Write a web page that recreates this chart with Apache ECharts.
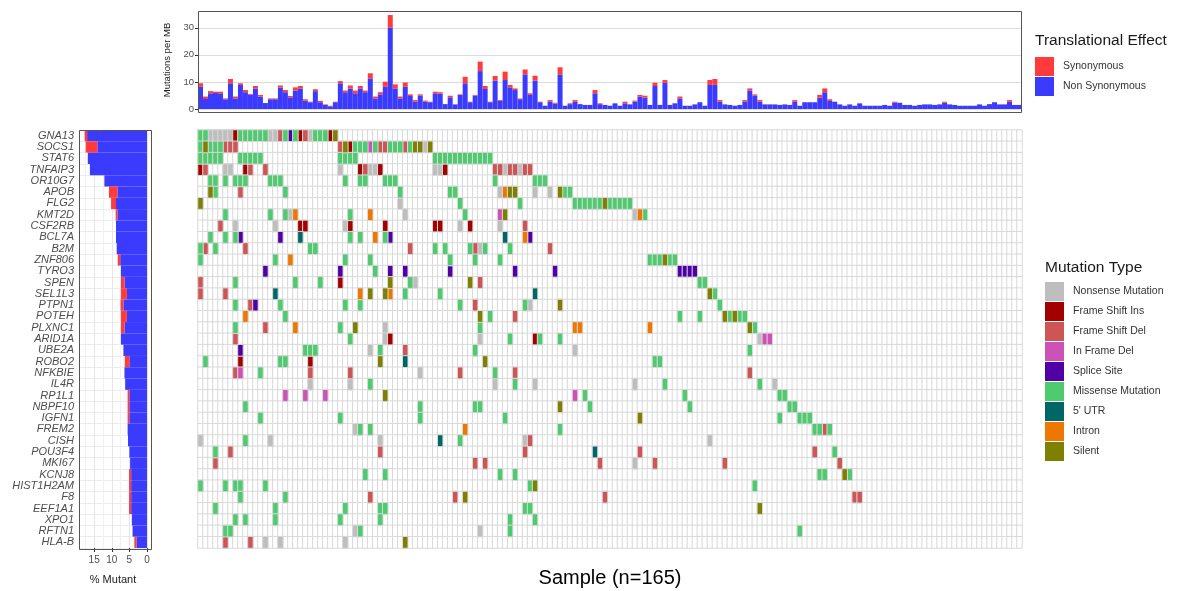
<!DOCTYPE html>
<html>
<head>
<meta charset="utf-8">
<script src="https://cdn.jsdelivr.net/npm/echarts@6/dist/echarts.min.js"></script>
<style>
  html, body { margin: 0; padding: 0; background: #fff; }
  #chart { width: 1184px; height: 591px; }
</style>
</head>
<body>
<div id="chart"></div>
<script>
// genes, top to bottom
const genes = ['GNA13', 'SOCS1', 'STAT6', 'TNFAIP3', 'OR10G7', 'APOB', 'FLG2', 'KMT2D', 'CSF2RB', 'BCL7A',
  'B2M', 'ZNF806', 'TYRO3', 'SPEN', 'SEL1L3', 'PTPN1', 'POTEH', 'PLXNC1', 'ARID1A', 'UBE2A',
  'ROBO2', 'NFKBIE', 'IL4R', 'RP1L1', 'NBPF10', 'IGFN1', 'FREM2', 'CISH', 'POU3F4', 'MKI67',
  'KCNJ8', 'HIST1H2AM', 'F8', 'EEF1A1', 'XPO1', 'RFTN1', 'HLA-B']

// % mutant per gene (left panel)
const pctNonSyn = [17.0, 14.1, 16.8, 16.2, 12.1, 8.4, 8.8, 8.4, 8.8, 8.8,
  8.6, 7.6, 7.4, 6.4, 5.7, 6.7, 5.7, 6.4, 7.4, 6.7,
  5.0, 6.4, 6.2, 5.0, 5.0, 5.0, 5.5, 5.4, 5.0, 4.8,
  4.5, 4.5, 4.5, 4.5, 4.3, 4.1, 3.0]
const pctSyn = [0.7, 3.3, 0, 0, 0, 2.4, 1.4, 0.5, 0, 0,
  0, 0.7, 0, 1.0, 1.7, 0.8, 1.7, 1.0, 0, 0,
  1.3, 0, 0, 0.5, 0.5, 0.5, 0, 0, 0, 0,
  0.6, 0.6, 0.6, 0.6, 0, 0, 0.6]

// mutations per MB per sample (top panel)
const tmbNonSyn = [
  8.2, 3.7, 5.8, 5.9, 5.8, 3.6, 9.5, 3.9, 8.9, 6.2, 5.2, 7.6, 4.6, 2.2, 3.6,
  3.6, 7.9, 6.2, 4.3, 6.8, 7.6, 3.1, 2.5, 6.6, 2.5, 1.5, 1.0, 2.5, 9.5, 6.2,
  7.6, 5.8, 7.6, 6.2, 11.3, 3.9, 5.4, 8.2, 30.0, 7.6, 3.9, 8.2, 4.8, 2.7, 4.9,
  2.7, 2.5, 5.8, 5.7, 1.8, 4.3, 1.7, 5.2, 9.5, 2.5, 4.9, 14.0, 7.4, 2.5, 10.5,
  3.0, 10.7, 8.0, 7.0, 3.6, 12.8, 5.2, 10.5, 2.5, 1.2, 2.7, 2.0, 12.8, 1.2, 1.8,
  2.7, 1.8, 1.5, 1.5, 5.8, 1.8, 1.5, 1.2, 2.1, 1.2, 2.1, 1.7, 2.7, 4.6, 4.2,
  1.5, 8.5, 1.5, 9.7, 1.5, 2.1, 3.9, 1.2, 1.2, 1.7, 2.5, 1.2, 8.9, 9.1, 2.7,
  1.7, 1.5, 1.2, 1.5, 2.7, 6.8, 4.9, 2.7, 1.7, 1.7, 1.7, 1.5, 1.7, 1.5, 2.7,
  1.2, 2.5, 2.5, 2.5, 4.2, 6.2, 3.0, 2.7, 1.7, 1.2, 1.7, 1.2, 2.1, 1.2, 1.2,
  1.2, 1.2, 1.5, 1.2, 2.3, 2.3, 1.5, 1.5, 1.2, 1.5, 1.7, 1.7, 1.5, 1.7, 2.3,
  1.7, 1.5, 1.2, 1.2, 1.2, 1.2, 1.7, 1.2, 1.8, 2.5, 1.7, 1.7, 2.7, 1.5, 1.5]
const tmbSyn = [
  1.3, 0.9, 0.8, 0.5, 0.6, 0.3, 1.6, 0.7, 0.6, 0.8, 0.3, 0.9, 0.6, 0, 0.3,
  0.3, 0.8, 0.8, 0.5, 1.2, 0.9, 0.5, 0.2, 0.7, 0.5, 0.2, 0.2, 0.2, 0.8, 0.6,
  1.1, 1.0, 0.9, 0.6, 1.9, 0.7, 0.8, 1.9, 4.7, 1.5, 0.7, 1.6, 0.6, 0.6, 0.5,
  0.4, 0.2, 0.6, 0.5, 0, 0.6, 0, 0.2, 2.4, 0.2, 0.3, 3.5, 1.1, 0.2, 1.7,
  0.3, 3.1, 0.9, 0.6, 0.3, 1.8, 0.6, 1.8, 0.2, 0, 0.6, 0.3, 2.6, 0, 0.3,
  0.6, 0, 0, 0, 1.2, 0.3, 0, 0, 0, 0, 0.6, 0, 0.4, 0.6, 0.7,
  0, 1.2, 0, 1.0, 0, 0, 0.7, 0, 0, 0, 0, 0, 1.8, 2.0, 0.6,
  0, 0, 0, 0, 0.6, 0.8, 0.5, 0.6, 0, 0, 0, 0, 0, 0, 0.6,
  0, 0, 0, 0, 1.0, 1.4, 0.6, 0, 0, 0, 0, 0, 0, 0, 0,
  0, 0, 0, 0, 0.4, 0, 0, 0, 0, 0, 0, 0, 0, 0, 0.4,
  0, 0, 0, 0, 0, 0, 0, 0, 0, 0, 0, 0, 0.6, 0, 0]

// mutation types: code letter, legend name, colour
const typeCodes = ['N', 'I', 'D', 'F', 'S', 'M', 'U', 'T', 'L']
const typeNames = ['Nonsense Mutation', 'Frame Shift Ins', 'Frame Shift Del', 'In Frame Del', 'Splice Site',
  'Missense Mutation', "5' UTR", 'Intron', 'Silent']
const typeColors = ['#bebebe', '#a30000', '#cd5555', '#cc52b8', '#5100a6', '#4dcb6e', '#006666', '#ee7700', '#808000']

// mutated samples per gene: "<sample index><type code>"
const geneCells = [
  '0M 1M 2N 3N 4N 5N 6N 7I 8M 9M 10M 11M 12M 13M 14N 15N 16D 17M 18S 19M 20I 21D 22N 23M 24M 25M 26I 27L',
  '0M 1L 2M 3M 4M 5D 6D 7D 28D 29L 30I 31M 32M 33M 34F 35M 36D 37D 38M 39M 40M 41D 42M 43L 44L 45N 46L',
  '0M 1M 2M 3M 4M 8M 9M 10M 11M 12M 28M 29M 30M 31M 47M 48M 49M 50M 51M 52M 53M 54M 55M 56M 57M 58M',
  '0I 1D 5N 6N 9I 10D 13D 28N 32I 33D 34N 35N 36I 47N 48N 49I 59D 60D 61N 62D 63D 64N 65D 66D',
  '2M 3M 5M 7M 8M 9M 14M 15M 16M 29M 32M 33M 37M 38M 39M 59M 67M 68M 69M',
  '2L 3M 8D 17M 40M 50M 51M 60N 61T 62L 63L 67N 70N 72L 73M 74M',
  '0L 40N 52M 64M 75M 76M 77M 78M 79M 80M 81L 82M 83M 84M 85M 86M',
  '5M 14M 17M 18N 19T 30M 34T 41N 53M 60F 61L 87N 88T 89M',
  '4D 7N 15N 20I 21I 29N 30I 37I 47I 48I 52N 54I 60N 65D',
  '2M 5M 7M 8S 16S 20U 30M 32M 35T 37M 38S 61U 65T 66S',
  '0M 1D 3M 9D 22M 23M 42D 47M 49M 54M 55D 56N 57M 62M 70D',
  '0M 15M 18T 29M 34M 50M 55M 60M 90M 91M 92M 93L 94M 95M',
  '13S 28S 35M 38S 41S 50S 63S 71S 96S 97S 98S 99S',
  '0D 7M 19M 24M 28I 38L 42M 43N 54L 56D 100M 101M',
  '0D 5D 15U 32T 34L 37L 38T 41M 48M 67U 102L 103M',
  '7M 10D 11S 16M 29M 32M 52M 55D 65M 66N 72L 104M',
  '9T 17M 56L 58M 63D 96M 100M 105L 106M 107L 108M 109M',
  '7M 13D 19T 28M 31L 37N 56M 75T 76T 90T 110L 111M',
  '7D 30M 37N 38I 56N 62M 67I 68M 72M 112N 113F 114F',
  '8S 21M 22M 23M 34N 36M 41D 55M 75N 110M',
  '1M 8I 16M 17M 22I 36L 41U 57L 91M 92M',
  '7D 8F 12M 22D 30D 44N 52D 59M 63D 110D',
  '22N 30N 34M 59N 63M 67N 87N 93M 112M 115N',
  '17F 21F 25F 37L 75F 77M 97M 116M 117M',
  '9M 44M 55M 56M 72L 78M 98M 118M 119M',
  '12M 28M 44M 61M 88L 116M 120M 121M 122M',
  '31N 32M 34M 53T 72M 123M 124M 125D 126M',
  '0N 9M 14N 36N 48U 52M 65N 66D 102N',
  '3M 6D 36D 65D 79U 88D 123D 127M',
  '3D 55D 57D 80D 87N 91D 105D 128D',
  '33M 37M 60M 63M 124M 125M 129L 130M',
  '0M 5M 7M 8M 13M 66M 67L 111M',
  '8M 17M 34D 51D 53L 81D 131D 132D',
  '3M 15M 29M 36M 37M 65M 66M 112L',
  '7M 9M 15M 28M 36M 62M 67M',
  '5M 6M 31N 32M 56N 62M 120M',
  '5D 10D 13N 16N 29N 41L'
]

const nSamples = 165
const samples = []
for (let i = 0; i < nSamples; i++) samples.push('S' + (i + 1))

const RED = '#ff3b3b'
const BLUE = '#3b3bff'
const FONT = 'Liberation Sans, Arial, sans-serif'

// empty cells (background grid)
const bgCells = []
for (let g = 0; g < genes.length; g++) {
  for (let s = 0; s < nSamples; s++) bgCells.push([s, g, 0])
}
// mutated cells grouped by type
const cellsByType = typeCodes.map(() => [])
geneCells.forEach((row, g) => {
  row.split(' ').forEach(tok => {
    const t = typeCodes.indexOf(tok.slice(-1))
    cellsByType[t].push([parseInt(tok, 10), g, 1])
  })
})

const chart = echarts.init(document.getElementById('chart'))

const heatSeries = typeNames.map((name, i) => ({
  name: name,
  type: 'heatmap',
  xAxisIndex: 2,
  yAxisIndex: 2,
  data: cellsByType[i],
  itemStyle: { color: typeColors[i], borderColor: '#d9d9d9', borderWidth: 1 },
  emphasis: { disabled: true },
  silent: true
}))

const legendCommon = {
  orient: 'vertical',
  icon: 'rect',
  itemWidth: 19,
  itemHeight: 19,
  itemGap: 1,
  padding: 0,
  selectedMode: false,
  itemStyle: { borderWidth: 0 },
  textStyle: { fontSize: 10.5, color: '#333', fontFamily: FONT, padding: [0, 0, 0, 4] }
}

chart.setOption({
  animation: false,
  textStyle: { fontFamily: FONT },
  grid: [
    { left: 198, top: 11, width: 824, height: 98 },
    { left: 79, top: 130, width: 68, height: 418 },
    { left: 198, top: 130, width: 824, height: 418 }
  ],
  xAxis: [
    { type: 'category', gridIndex: 0, data: samples, show: false },
    {
      type: 'value', gridIndex: 1, inverse: true, min: 0, max: 19.3, interval: 5,
      axisLine: { show: false },
      axisTick: { show: true, length: 4, lineStyle: { color: '#333' } },
      axisLabel: { fontSize: 10, color: '#4d4d4d', margin: 7, showMaxLabel: false },
      splitLine: { show: true, lineStyle: { color: '#e6e6e6' } },
      minorTick: { show: false, splitNumber: 2 },
      minorSplitLine: { show: true, lineStyle: { color: '#f2f2f2' } },
      name: '% Mutant', nameLocation: 'middle', nameGap: 26,
      nameTextStyle: { fontSize: 11, color: '#1a1a1a' }
    },
    { type: 'category', gridIndex: 2, data: samples, show: false }
  ],
  yAxis: [
    {
      type: 'value', gridIndex: 0, min: 0, max: 36.2, interval: 10,
      axisLine: { show: false },
      axisTick: { show: true, length: 3, lineStyle: { color: '#333' } },
      axisLabel: { fontSize: 9.5, color: '#4d4d4d', margin: 4, showMaxLabel: false },
      splitLine: { show: true, lineStyle: { color: '#dcdcdc' } },
      name: 'Mutations per MB', nameLocation: 'middle', nameGap: 14,
      nameTextStyle: { fontSize: 9.5, color: '#1a1a1a' }
    },
    {
      type: 'category', gridIndex: 1, inverse: true, data: genes,
      axisLine: { show: false },
      axisTick: { show: false },
      axisLabel: { interval: 0, fontSize: 11, fontStyle: 'italic', color: '#4d4d4d', margin: 5 },
      splitLine: { show: true, interval: 0, lineStyle: { color: '#ededed' } }
    },
    { type: 'category', gridIndex: 2, inverse: true, data: genes, show: false }
  ],
  legend: [
    Object.assign({ left: 1035, top: 57, data: ['Synonymous', 'Non Synonymous'] }, legendCommon),
    Object.assign({ left: 1045, top: 282, data: typeNames }, legendCommon)
  ],
  graphic: [
    { type: 'rect', shape: { x: 198.5, y: 11.5, width: 823, height: 101 },
      style: { fill: null, stroke: '#555', lineWidth: 1 }, z: 100, silent: true },
    { type: 'rect', shape: { x: 79.5, y: 130.5, width: 72, height: 419 },
      style: { fill: null, stroke: '#555', lineWidth: 1 }, z: 100, silent: true },
    { type: 'text', x: 1035, y: 41,
      style: { text: 'Translational Effect', fontSize: 15.5, fill: '#1a1a1a', fontFamily: FONT,
        align: 'left', verticalAlign: 'middle' } },
    { type: 'text', x: 1045, y: 268,
      style: { text: 'Mutation Type', fontSize: 15.5, fill: '#1a1a1a', fontFamily: FONT,
        align: 'left', verticalAlign: 'middle' } },
    { type: 'text', x: 610, y: 578,
      style: { text: 'Sample (n=165)', fontSize: 20, fill: '#000', fontFamily: FONT,
        align: 'center', verticalAlign: 'middle' } }
  ],
  series: [
    { name: 'Non Synonymous', type: 'bar', xAxisIndex: 0, yAxisIndex: 0, stack: 'tmb',
      data: tmbNonSyn, barCategoryGap: '0%', itemStyle: { color: BLUE }, silent: true },
    { name: 'Synonymous', type: 'bar', xAxisIndex: 0, yAxisIndex: 0, stack: 'tmb',
      data: tmbSyn, barCategoryGap: '0%', itemStyle: { color: RED }, silent: true },
    { name: 'Non Synonymous', type: 'bar', xAxisIndex: 1, yAxisIndex: 1, stack: 'pct',
      data: pctNonSyn, barCategoryGap: '0%', itemStyle: { color: BLUE }, silent: true },
    { name: 'Synonymous', type: 'bar', xAxisIndex: 1, yAxisIndex: 1, stack: 'pct',
      data: pctSyn, barCategoryGap: '0%', itemStyle: { color: RED }, silent: true },
    { name: 'bg', type: 'heatmap', xAxisIndex: 2, yAxisIndex: 2, data: bgCells,
      itemStyle: { color: '#ffffff', borderColor: '#d9d9d9', borderWidth: 1 },
      emphasis: { disabled: true }, silent: true }
  ].concat(heatSeries)
})
</script>
</body>
</html>
